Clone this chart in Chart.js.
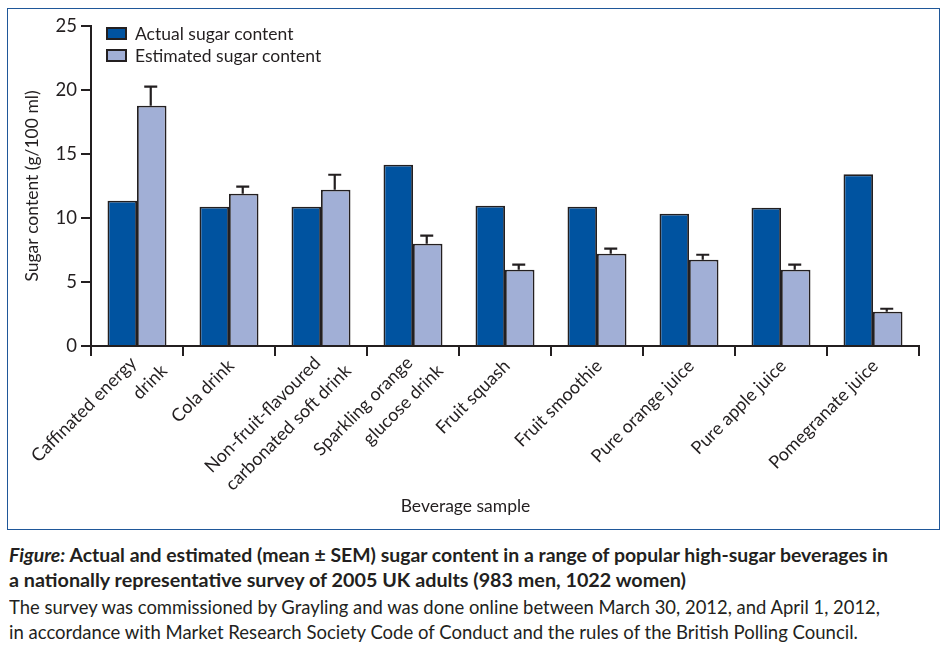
<!DOCTYPE html>
<html>
<head>
<meta charset="utf-8">
<script src="https://cdn.jsdelivr.net/npm/chart.js@4.4.1/dist/chart.umd.min.js"></script>
<style>
html,body{margin:0;padding:0;background:#fff;width:952px;height:658px;overflow:hidden;}
#frame{position:absolute;left:7px;top:8px;width:933px;height:522px;border:1.5px solid #1f5799;box-sizing:border-box;}
#c{position:absolute;left:0;top:0;}
.cap{position:absolute;left:9px;white-space:nowrap;font-family:Lato,"Open Sans",sans-serif;font-size:19px;line-height:25px;color:#231f20;transform-origin:0 50%;}
.b{font-weight:bold;}
</style>
</head>
<body>
<div id="frame"></div>
<canvas id="c" width="952" height="530"></canvas>
<div class="cap b" id="l1" style="top:542px" data-w="879"><i>Figure:</i> Actual and estimated (mean ± SEM) sugar content in a range of popular high-sugar beverages in</div>
<div class="cap b" id="l2" style="top:567px" data-w="677">a nationally representative survey of 2005 UK adults (983 men, 1022 women)</div>
<div class="cap" id="l3" style="top:594px" data-w="871">The survey was commissioned by Grayling and was done online between March 30, 2012, and April 1, 2012,</div>
<div class="cap" id="l4" style="top:619px" data-w="849">in accordance with Market Research Society Code of Conduct and the rules of the British Polling Council.</div>
<script>
// ---- data ----
const categories = [
  ["Caffinated energy", "drink"],
  "Cola drink",
  ["Non-fruit-flavoured", "carbonated soft drink"],
  ["Sparkling orange", "glucose drink"],
  "Fruit squash",
  "Fruit smoothie",
  "Pure orange juice",
  "Pure apple juice",
  "Pomegranate juice"
];
const actualSugar    = [11.35, 10.88, 10.88, 14.16, 10.96, 10.88, 10.34, 10.80, 13.41];
const estimatedSugar = [18.77, 11.90, 12.21,  7.99,  5.96,  7.21,  6.74,  5.96,  2.68];
const estimatedSEM   = [ 1.50,  0.55,  1.17,  0.63,  0.39,  0.39,  0.39,  0.39,  0.23];
const yTicks = [0, 5, 10, 15, 20, 25];
const seriesNames = ["Actual sugar content", "Estimated sugar content"];
const xTitle = "Beverage sample";
const yTitle = "Sugar content (g/100 ml)";

// ---- style ----
const INK = '#231f20';
const DARK = '#0053a0';
const LIGHT = '#a1afd6';
const FONT = 'Lato, "Open Sans", sans-serif';

const errorBars = {
  id: 'errorBars',
  afterDatasetsDraw(chart) {
    const meta = chart.getDatasetMeta(1);
    const y = chart.scales.y;
    const ctx = chart.ctx;
    ctx.save();
    ctx.strokeStyle = INK;
    ctx.lineWidth = 2.2;
    meta.data.forEach((bar, i) => {
      const top = y.getPixelForValue(estimatedSugar[i] + estimatedSEM[i]);
      const x = bar.x - 1;
      ctx.beginPath();
      ctx.moveTo(x, bar.y);
      ctx.lineTo(x, top);
      ctx.moveTo(x - 6.5, top);
      ctx.lineTo(x + 6.5, top);
      ctx.stroke();
    });
    ctx.restore();
  }
};

const customText = {
  id: 'customText',
  afterDraw(chart) {
    const ctx = chart.ctx;
    const xs = chart.scales.x;
    const area = chart.chartArea;
    ctx.save();
    ctx.fillStyle = INK;
    ctx.font = '18px ' + FONT;
    // rotated category labels
    ctx.textAlign = 'right';
    ctx.textBaseline = 'middle';
    chart.data.labels.forEach((lab, i) => {
      const cx = xs.getPixelForValue(i);
      const lines = Array.isArray(lab) ? lab : [lab];
      const anchors = lines.length === 1 ? [[2, 17]] : [[-3.5, 14], [27, 22]];
      lines.forEach((t, k) => {
        ctx.save();
        ctx.translate(cx + anchors[k][0], xs.top + anchors[k][1]);
        ctx.rotate(-Math.PI / 4);
        ctx.fillText(t, 0, 0);
        ctx.restore();
      });
    });
    // x title
    ctx.font = '17.5px ' + FONT;
    ctx.textAlign = 'center';
    ctx.textBaseline = 'alphabetic';
    ctx.fillText(xTitle, 465.5, 512);
    // legend
    ctx.textAlign = 'left';
    ctx.textBaseline = 'middle';
    chart.data.datasets.forEach((ds, k) => {
      const bx = area.left + 16, by = area.top + 2 + k * 22;
      ctx.fillStyle = ds.backgroundColor;
      ctx.fillRect(bx, by, 19, 11);
      ctx.strokeStyle = INK;
      ctx.lineWidth = 2;
      ctx.strokeRect(bx, by, 19, 11);
      ctx.fillStyle = INK;
      ctx.fillText(ds.label, bx + 28, by + 6);
    });
    ctx.restore();
  }
};

new Chart(document.getElementById('c'), {
  type: 'bar',
  data: {
    labels: categories,
    datasets: [
      { label: seriesNames[0], data: actualSugar, backgroundColor: DARK, borderColor: INK, borderWidth: 1.8 },
      { label: seriesNames[1], data: estimatedSugar, backgroundColor: LIGHT, borderColor: INK, borderWidth: 1.8 }
    ]
  },
  options: {
    responsive: false,
    animation: false,
    devicePixelRatio: 1,
    layout: { padding: { left: 0, top: 26, right: 33, bottom: 0 } },
    datasets: { bar: { categoryPercentage: 0.641, barPercentage: 1.0 } },
    plugins: { legend: { display: false }, tooltip: { enabled: false } },
    scales: {
      x: {
        ticks: { display: false },
        grid: { offset: true, drawOnChartArea: false, drawTicks: true, tickLength: 10, color: INK, lineWidth: 2 },
        border: { display: true, color: INK, width: 2 },
        afterFit(s) { s.height = 184; }
      },
      y: {
        min: 0, max: 25,
        afterBuildTicks(s) { s.ticks = yTicks.map(v => ({ value: v })); },
        ticks: { color: INK, font: { family: FONT, size: 18.5 }, padding: 4 },
        grid: { drawOnChartArea: false, drawTicks: true, tickLength: 10, color: INK, lineWidth: 2 },
        border: { display: true, color: INK, width: 2 },
        title: { display: true, text: yTitle, color: INK, font: { family: FONT, size: 17.5 }, padding: { top: 22, bottom: 0 } },
        afterFit(s) { s.width = 91; }
      }
    }
  },
  plugins: [errorBars, customText]
});

// fit caption lines to the reference widths
document.querySelectorAll('.cap').forEach(el => {
  const w = el.getBoundingClientRect().width;
  const target = parseFloat(el.dataset.w);
  el.style.transform = 'scaleX(' + (target / w) + ')';
});
</script>
</body>
</html>
